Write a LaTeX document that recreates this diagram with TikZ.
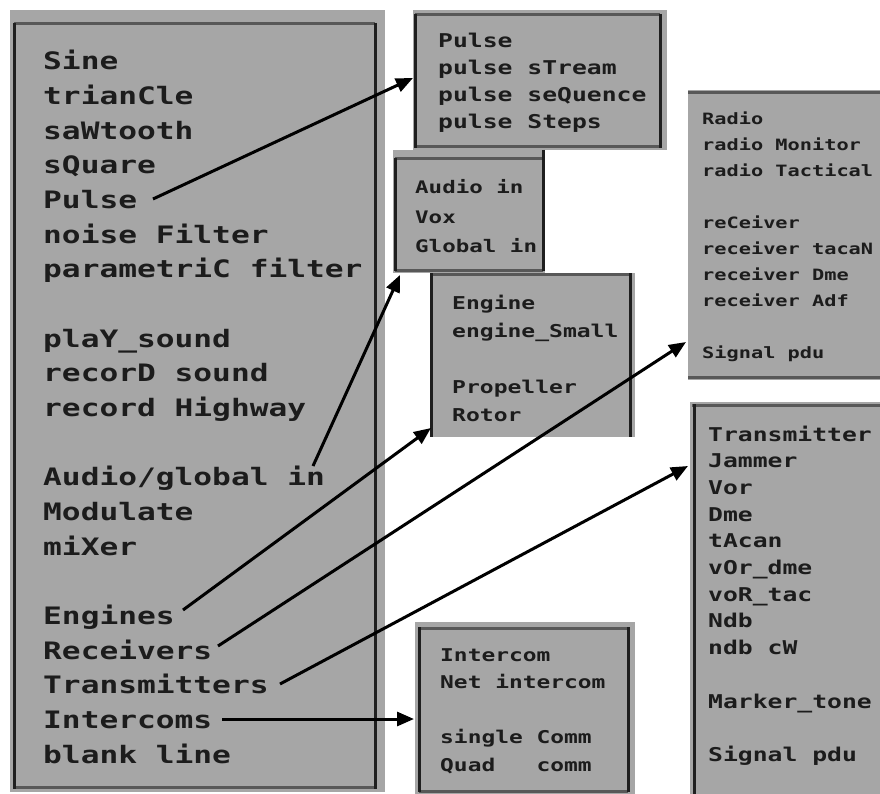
\documentclass[tikz,border=0pt]{standalone}
\usepackage{fontspec}
\newfontfamily\pix[FakeStretch=1.3]{DejaVu Sans Mono}
\usetikzlibrary{arrows.meta}
\definecolor{boxgray}{RGB}{166,166,166}
\definecolor{edgegray}{RGB}{88,88,88}
\definecolor{ink}{RGB}{28,28,28}
\begin{document}
\begin{tikzpicture}[x=1pt,y=-1pt,
  txt/.style={anchor=base west, inner sep=0pt, text=ink},
  link/.style={line width=3pt, draw=black, -{Triangle[length=17pt,width=14pt]}},
  dk/.style={line width=3pt, draw=black!88},
  lt/.style={line width=3pt, draw=edgegray},
  pane/.style={fill=boxgray}]
\useasboundingbox (0,0) rectangle (880,794);

% main box
\fill[pane] (10,10) rectangle (385,792);
\draw[lt] (14,24) -- (375,24);
\draw[lt] (14,787) -- (375,787);
\draw[dk] (14,23) -- (14,789);
\draw[dk] (375,23) -- (375,789);

% pulse box
\fill[pane] (413,10) rectangle (667,150);
\draw[lt] (415,15) -- (660,15);
\draw[lt] (415,147) -- (660,147);
\draw[dk] (415,14) -- (415,148);
\draw[dk] (660,14) -- (660,148);

% audio box
\fill[pane] (393,150) rectangle (545,273);
\draw[lt] (395,159) -- (543,159);
\draw[lt] (395,270) -- (543,270);
\draw[dk] (395,158) -- (395,271);
\draw[dk] (543,150) -- (543,271);

% engine box
\fill[pane] (430,273) rectangle (635,437);
\draw[lt] (431,274) -- (630,274);
\draw[dk] (431,273) -- (431,437);
\draw[dk] (630,273) -- (630,437);

% radio box
\fill[pane] (688,90) rectangle (880,380);
\draw[lt] (688,93) -- (880,93);
\draw[lt] (688,377) -- (880,377);

% transmitter box
\fill[pane] (690,402) rectangle (880,794);
\draw[lt] (692,405) -- (880,405);
\draw[dk] (694,404) -- (694,794);

% intercom box
\fill[pane] (415,622) rectangle (635,794);
\draw[lt] (419,628) -- (628,628);
\draw[lt] (419,791) -- (628,791);
\draw[dk] (419,627) -- (419,792);
\draw[dk] (628,627) -- (628,792);

% texts
\foreach \t [count=\i from 0] in {Sine,trianCle,saWtooth,sQuare,Pulse,noise Filter,parametriC filter,{},plaY\_sound,recorD sound,record Highway,{},Audio/global in,Modulate,miXer,{},Engines,Receivers,Transmitters,Intercoms,blank line}
  \node[txt, font={\pix\bfseries\fontsize{24}{28}\selectfont}] (m\i) at (43,{70+\i*34.65}) {\t};

\foreach \t [count=\i from 0] in {Pulse,pulse sTream,pulse seQuence,pulse Steps}
  \node[txt, font={\pix\bfseries\fontsize{19}{22}\selectfont}] (p\i) at (438,{48+\i*27}) {\t};

\foreach \t [count=\i from 0] in {Audio in,Vox,Global in}
  \node[txt, font={\pix\bfseries\fontsize{17.3}{20}\selectfont}] (a\i) at (415,{194+\i*29.5}) {\t};

\foreach \t [count=\i from 0] in {Engine,engine\_Small,{},Propeller,Rotor}
  \node[txt, font={\pix\bfseries\fontsize{17.7}{20}\selectfont}] (e\i) at (452,{309+\i*28}) {\t};

\foreach \t [count=\i from 0] in {Radio,radio Monitor,radio Tactical,{},reCeiver,receiver tacaN,receiver Dme,receiver Adf,{},Signal pdu}
  \node[txt, font={\pix\bfseries\fontsize{15.6}{18}\selectfont}] (r\i) at (702,{125+\i*25.9}) {\t};

\foreach \t [count=\i from 0] in {Transmitter,Jammer,Vor,Dme,tAcan,vOr\_dme,voR\_tac,Ndb,ndb cW,{},Marker\_tone,{},Signal pdu}
  \node[txt, font={\pix\bfseries\fontsize{19}{22}\selectfont}] (t\i) at (708,{441+\i*26.7}) {\t};

\foreach \t [count=\i from 0] in {Intercom,Net intercom,{},single Comm,Quad~~~comm}
  \node[txt, font={\pix\bfseries\fontsize{17.6}{20}\selectfont}] (c\i) at (440,{661+\i*27.5}) {\t};

% connectors
\coordinate (pS) at (153,199); \coordinate (pE) at (413,78);
\coordinate (aS) at (313,466); \coordinate (aE) at (400,275);
\coordinate (eS) at (183,610); \coordinate (eE) at (431,428);
\coordinate (rS) at (218,646); \coordinate (rE) at (686,342);
\coordinate (tS) at (280,684); \coordinate (tE) at (688,466);
\coordinate (iS) at (222,719); \coordinate (iE) at (414,719);
\draw[link] (pS) -- (pE);
\draw[link] (aS) -- (aE);
\draw[link] (eS) -- (eE);
\draw[link] (rS) -- (rE);
\draw[link] (tS) -- (tE);
\draw[link] (iS) -- (iE);
\end{tikzpicture}
\end{document}
